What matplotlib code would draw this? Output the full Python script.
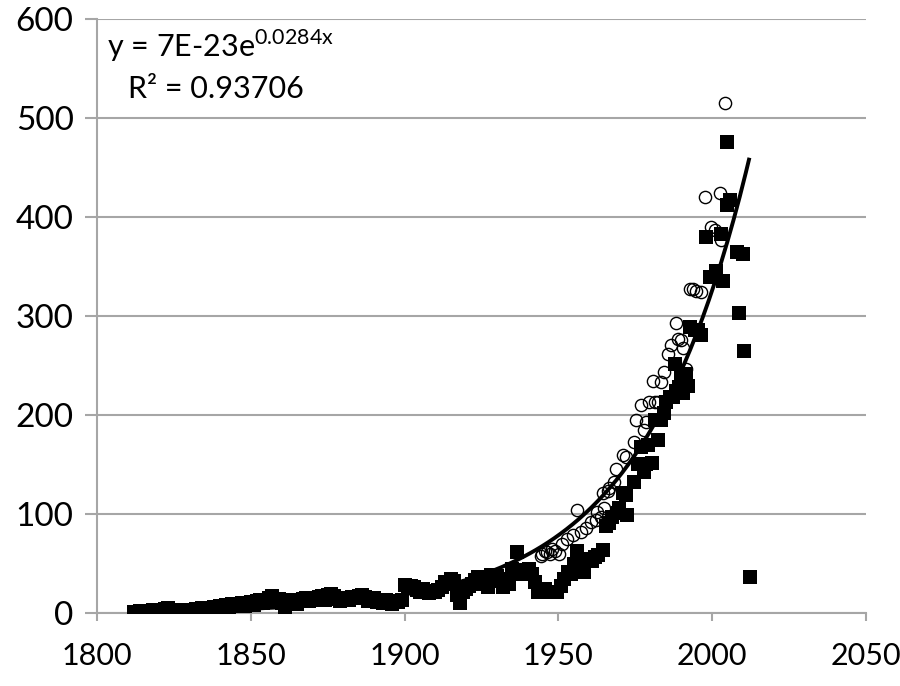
import matplotlib as mpl
import matplotlib.pyplot as plt
import numpy as np

# filled squares (years)
sq_years = list(range(1812, 1930)) + [
    1930, 1931, 1932, 1933, 1934, 1935, 1936.7, 1937.5, 1938.5, 1939.5, 1940.6, 1941.5, 1942.5, 1943.5,
    1944.3, 1945.5, 1946.5, 1947.5, 1948.5, 1949.7, 1950.8, 1951.9, 1953, 1954, 1955, 1956.2, 1957.8,
    1958.4, 1959.8, 1960.8, 1962, 1962.8, 1964.4, 1965.5, 1966.6, 1967.6, 1969.3, 1969.8, 1971, 1972,
    1972.2, 1974.7, 1975.8, 1976.9, 1978, 1978.5, 1979.1, 1980.4, 1981.3, 1982.4, 1983.4, 1984.5,
    1985, 1986.3, 1987.3, 1987.8, 1988.2, 1989.4, 1990, 1990.5, 1991.6, 1992.2, 1992.7, 1994.3,
    1995.4, 1996.5, 1998.1, 1999.2, 2001.3, 2003, 2003.6, 2004.7, 2004.7, 2005.8, 2008.2, 2008.6,
    2010.1, 2010.4, 2012.3]
sq_values = [
    1, 0, 2, 1, 0, 2, 3, 1, 2, 3, 4, 5, 3, 2, 1, 2, 3, 2, 1, 3,
    4, 3, 5, 4, 3, 5, 6, 4, 7, 5, 8, 6, 9, 7, 8, 10, 7, 9, 11, 8,
    12, 13, 10, 11, 15, 17, 12, 14, 10, 5, 12, 13, 11, 9, 13, 14, 15, 12, 14, 13,
    16, 17, 13, 18, 19, 17, 14, 12, 15, 14, 13, 16, 15, 17, 18, 16, 12, 14, 15, 11,
    13, 10, 13, 12, 9, 12, 11, 13, 29, 26, 28, 27, 24, 22, 25, 21, 20, 23, 22, 24,
    27, 32, 30, 35, 33, 18, 10, 22, 25, 28, 30, 34, 37, 35, 30, 27, 39, 36,
    38, 33, 27, 35, 30, 45, 62, 42, 40, 44, 45, 40, 32, 22,
    21, 25, 22, 21, 22, 22, 28, 35, 42, 40, 50, 63, 50,
    42, 55, 53, 57, 59, 64, 88, 91, 97, 101, 106, 121, 119,
    99, 133, 151, 168, 143, 151, 170, 152, 195, 175, 195, 202,
    213, 218, 218, 252, 225, 229, 239, 222, 242, 230, 289, 286,
    286, 281, 380, 340, 346, 383, 336, 476, 412, 417, 365, 303,
    363, 265, 37]

# open circles
ci_years = [1944.4, 1944.8, 1945.6, 1946.4, 1947.2, 1948, 1949, 1950.2, 1951.3, 1952.9, 1954.6, 1956.2,
            1957.3, 1958.9, 1960.6, 1962.2, 1962.7, 1963.8, 1964.4, 1964.9, 1966, 1966.6, 1968.2,
            1968.7, 1970.9, 1972, 1974.7, 1975.3, 1976.9, 1978, 1978.5, 1979.6, 1980.7, 1981.3,
            1982.4, 1983.4, 1984.5, 1985.6, 1986.7, 1988.3, 1988.9, 1990, 1990.5, 1991.6, 1992.7,
            1993.8, 1994.9, 1996.5, 1997.6, 1999.8, 2000.9, 2002.5, 2003, 2004.1]
ci_values = [58, 60, 63, 62, 60, 65, 63, 60, 70, 75, 79, 104,
             82, 86, 92, 94, 102, 97, 121, 106, 124, 127, 133,
             146, 160, 158, 173, 195, 210, 185, 193, 213, 235, 213,
             213, 234, 244, 262, 271, 293, 277, 276, 268, 247, 328,
             328, 326, 324, 420, 390, 387, 424, 377, 515]

# exponential trendline as printed on the chart
trend_a = 7e-23
trend_b = 0.0284
trend_x = np.linspace(1812, 2012, 200)

grey = "#a6a6a6"

mpl.rcParams["font.family"] = ["Lato", "DejaVu Sans"]
mpl.rcParams["mathtext.fontset"] = "custom"
mpl.rcParams["mathtext.rm"] = "Lato"

fig = plt.figure(figsize=(9, 6.86), dpi=100)
ax = fig.add_axes([0.108, 0.106, 0.854, 0.866])

ax.plot(sq_years, sq_values, "s", color="black", markersize=9.5, markeredgewidth=0, zorder=3)
ax.plot(ci_years, ci_values, "o", markerfacecolor="none", markeredgecolor="black",
        markersize=8.8, markeredgewidth=1.0, zorder=4)
ax.plot(trend_x, trend_a * np.exp(trend_b * trend_x), color="black", linewidth=2.8, zorder=5)

ax.set_xlim(1800, 2050)
ax.set_ylim(0, 600)
ax.set_xticks(np.arange(1800, 2051, 50))
ax.set_yticks(np.arange(0, 601, 100))

ax.grid(axis="y", color=grey, linewidth=1.5, zorder=0)
ax.set_axisbelow(True)
for side in ["top", "right"]:
    ax.spines[side].set_visible(False)
for side in ["left", "bottom"]:
    ax.spines[side].set_color(grey)
    ax.spines[side].set_linewidth(1.5)

ax.tick_params(axis="y", direction="out", length=9, width=1.5, color=grey, labelsize=24, pad=8)
ax.tick_params(axis="x", direction="out", length=6, width=1.5, color=grey, labelsize=22, pad=15)

ax.text(0.013, 0.955, r"y = 7E-23e$^{\mathrm{0.0284x}}$", transform=ax.transAxes,
        fontsize=22, va="center", ha="left")
ax.text(0.04, 0.883, "R² = 0.93706", transform=ax.transAxes,
        fontsize=22, va="center", ha="left")

fig.savefig("out.png", dpi=100)
